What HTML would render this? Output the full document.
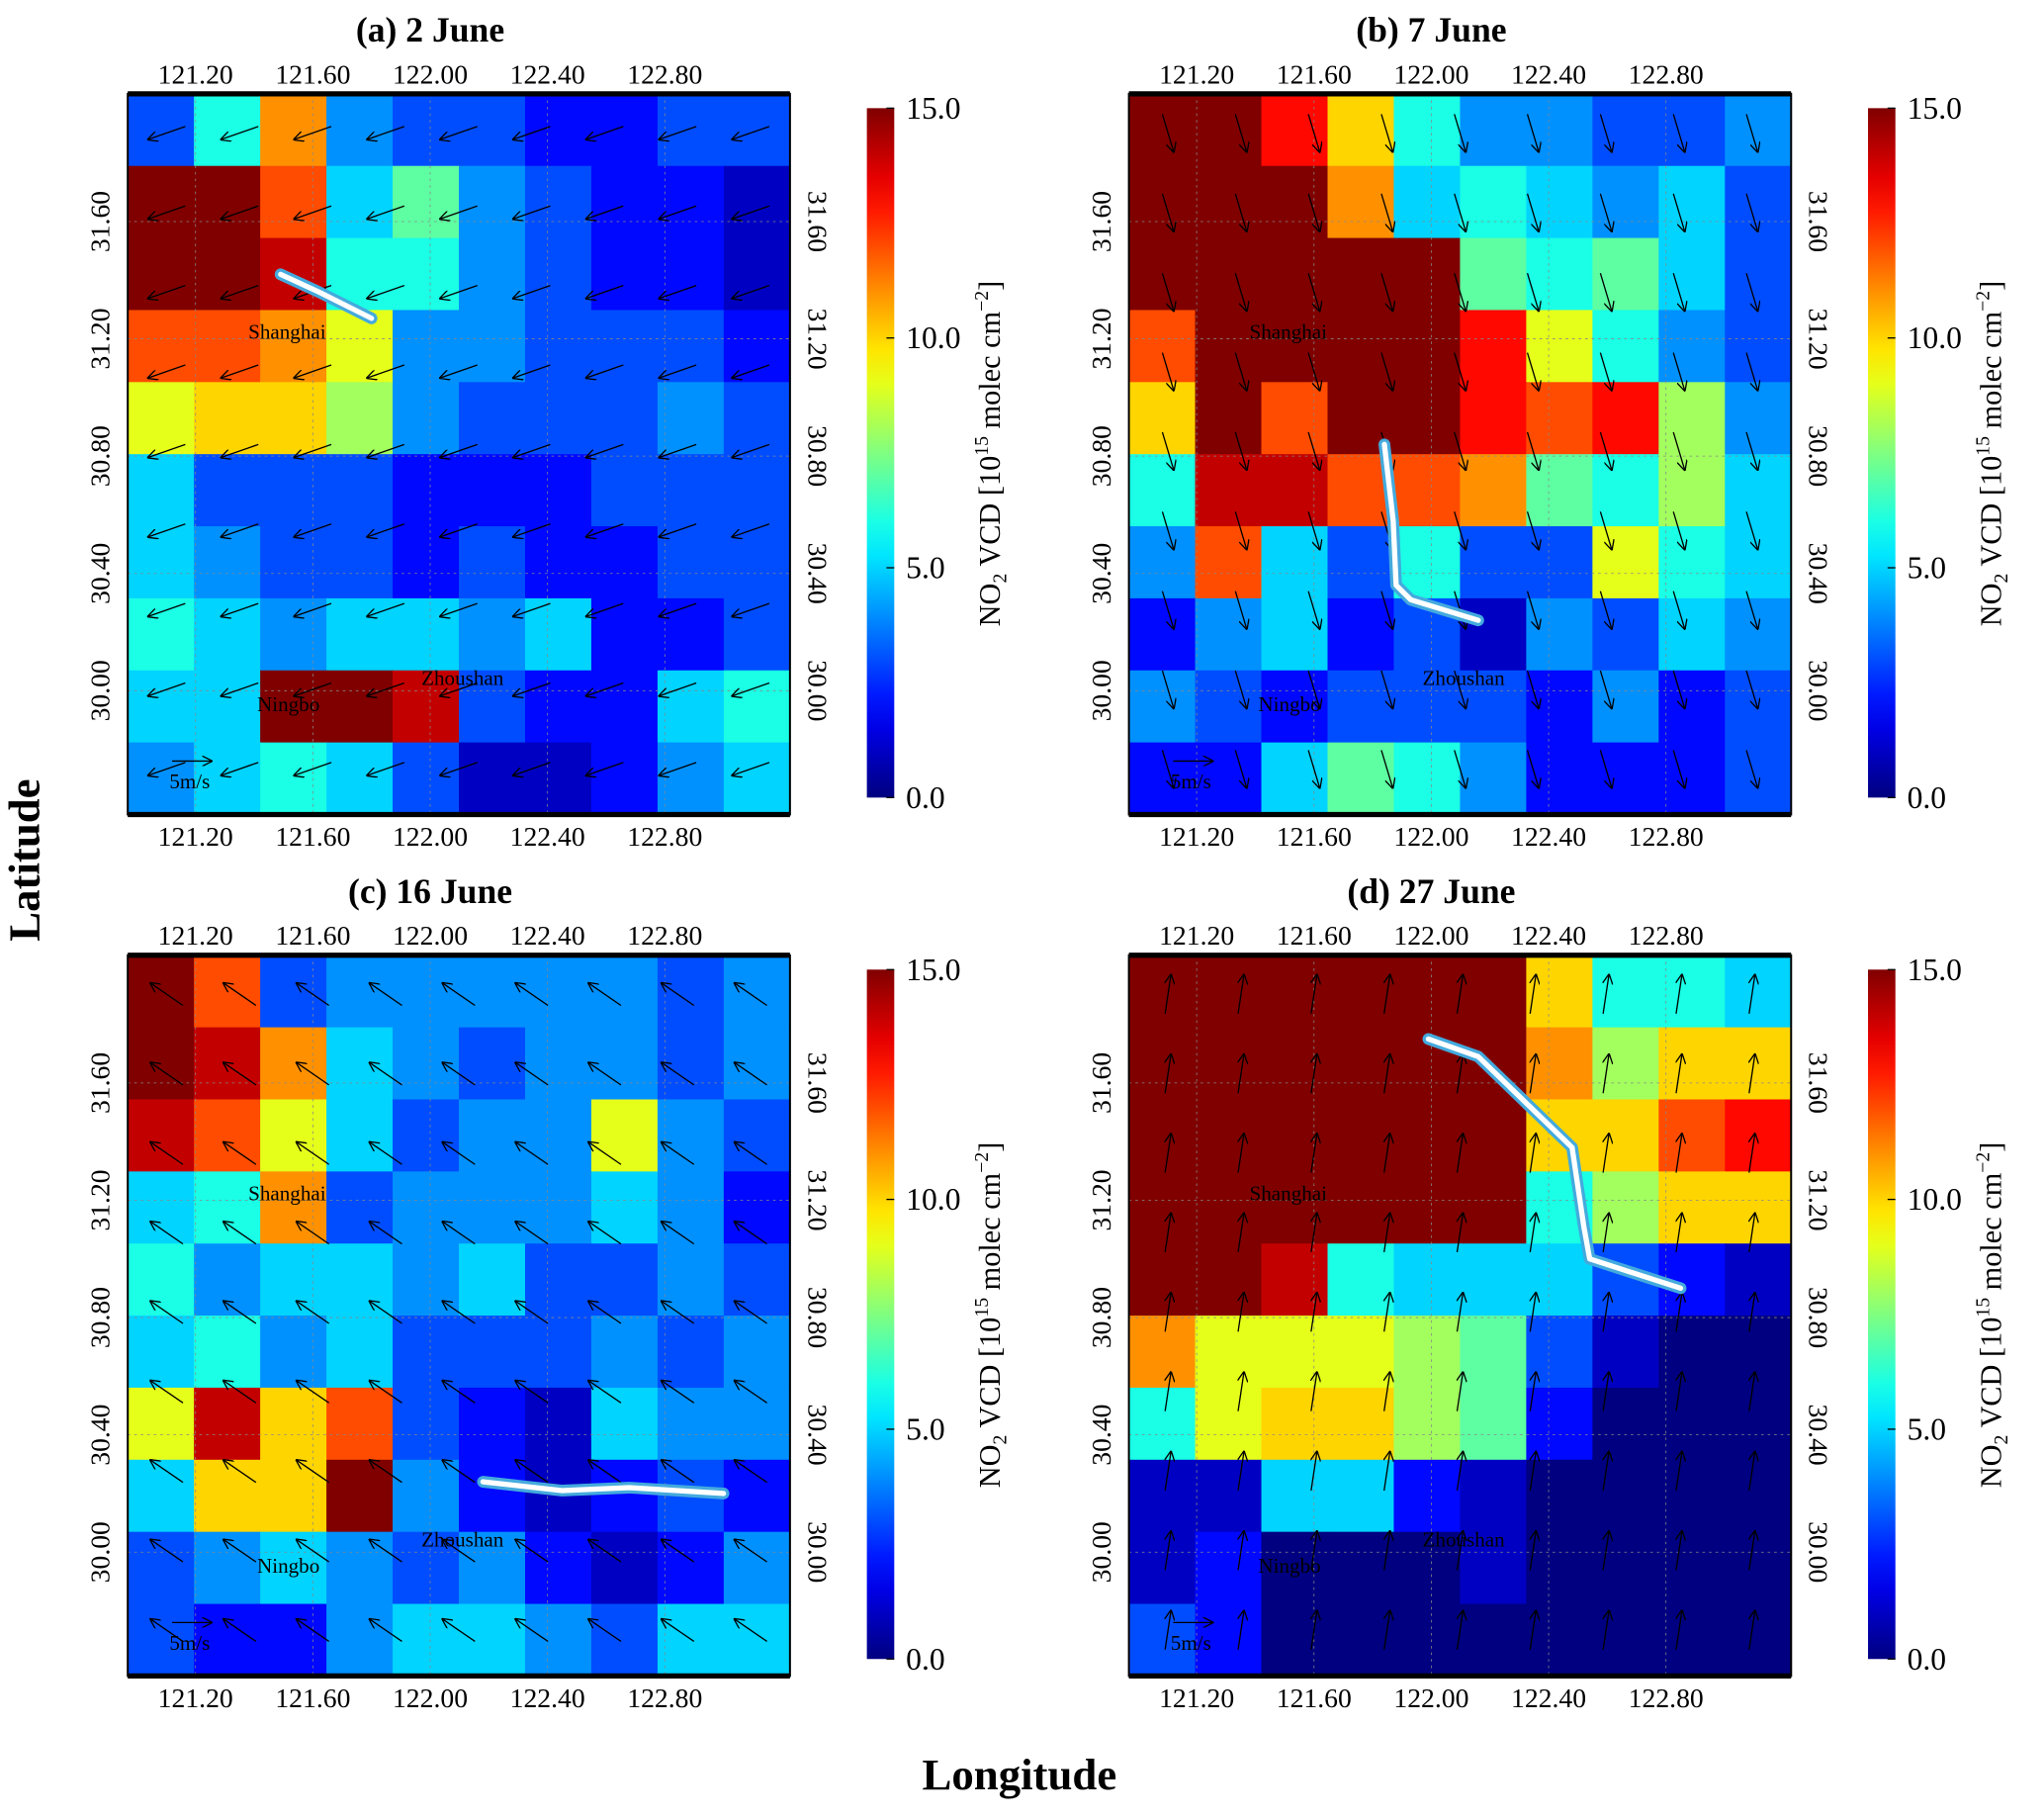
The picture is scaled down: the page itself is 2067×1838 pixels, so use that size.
<!DOCTYPE html>
<html><head><meta charset="utf-8">
<style>
html,body{margin:0;padding:0;background:#fff;}
svg{display:block;}
text{font-family:"Liberation Serif",serif;}
</style></head>
<body>
<svg id="fig" width="2067" height="1838" viewBox="0 0 1568 1395" preserveAspectRatio="none" xmlns="http://www.w3.org/2000/svg">
<rect width="1568" height="1395" fill="#fff"/>
<text x="30" y="660" font-size="34" font-weight="bold" text-anchor="middle" transform="rotate(-90 30 660)">Latitude</text>
<text x="782" y="1373" font-size="34" font-weight="bold" text-anchor="middle">Longitude</text>
</svg>
<script>
// ---- data ----
const panelTitles = ["(a)   2 June","(b)   7 June","(c)   16 June","(d)   27 June"];
const lonTicks = [121.2,121.6,122.0,122.4,122.8];
const latTicks = [31.6,31.2,30.8,30.4,30.0];
const cbTicks = [0,5,10,15];
const gridA = [
[3,6,11,4,3,3,2,2,3,3],
[15,15,12,5,7,4,3,2,2,1],
[15,15,14,6,6,4,3,2,2,1],
[12,12,11,9,4,4,3,3,3,2],
[9,10,10,8,4,3,3,3,4,3],
[5,3,3,3,2,2,2,3,3,3],
[5,4,3,3,2,3,2,2,3,3],
[6,5,4,5,5,4,5,2,2,3],
[5,5,15,15,14,3,2,2,5,6],
[4,5,6,5,3,1,1,2,4,5]];
const gridB = [
[15,15,13,10,6,4,4,3,3,4],
[15,15,15,11,5,6,5,4,5,3],
[15,15,15,15,15,7,6,7,5,3],
[12,15,15,15,15,13,9,6,4,3],
[10,15,12,15,15,13,12,13,8,4],
[6,14,14,12,12,11,7,6,8,5],
[4,12,5,3,6,3,3,9,6,5],
[2,4,5,2,3,1,4,3,5,4],
[4,3,2,3,3,3,2,4,2,3],
[2,2,5,7,6,4,2,2,2,3]];
const gridC = [
[15,12,3,4,4,4,4,4,3,4],
[15,14,11,5,4,3,4,4,3,4],
[14,12,9,5,3,4,4,9,4,3],
[5,6,11,3,4,4,4,5,4,2],
[6,4,5,5,4,5,3,3,4,3],
[5,6,4,5,3,3,3,4,3,4],
[9,14,10,12,3,2,1,5,4,4],
[5,10,10,15,4,2,1,2,3,2],
[3,4,5,4,3,4,2,1,2,4],
[3,2,2,4,5,5,4,3,5,5]];
const gridD = [
[15,15,15,15,15,15,10,6,6,5],
[15,15,15,15,15,15,11,8,10,10],
[15,15,15,15,15,15,10,10,12,13],
[15,15,15,15,15,15,6,8,10,10],
[15,15,14,6,5,5,5,3,2,1],
[11,9,9,9,8,7,3,1,0,0],
[6,9,10,10,8,7,2,0,0,0],
[1,1,5,5,2,1,0,0,0,0],
[1,2,0,0,0,1,0,0,0,0],
[3,2,0,0,0,0,0,0,0,0]];
const windU = [-1.0, 0.3, -0.8, 0.15];
const windV = [-0.35, -1.0, 0.55, 1.0];
const trackLonA = [121.49,121.62,121.8];
const trackLatA = [31.42,31.36,31.27];
const trackLonB = [121.84,121.87,121.88,121.93,122.16];
const trackLatB = [30.84,30.58,30.36,30.31,30.24];
const trackLonC = [122.18,122.45,122.68,123.0];
const trackLatC = [30.24,30.21,30.22,30.2];
const trackLonD = [121.99,122.16,122.48,122.52,122.54,122.85];
const trackLatD = [31.75,31.69,31.38,31.11,31.0,30.9];

const grids=[gridA,gridB,gridC,gridD];
const tLon=[trackLonA,trackLonB,trackLonC,trackLonD];
const tLat=[trackLatA,trackLatB,trackLatC,trackLatD];
const NS="http://www.w3.org/2000/svg";
const svg=document.getElementById('fig');
function mk(tag,attrs,parent){const e=document.createElementNS(NS,tag);for(const k in attrs)e.setAttribute(k,attrs[k]);(parent||svg).appendChild(e);return e;}
function jet(v){let t=Math.max(0,Math.min(1,v/15));
 const r=Math.max(0,Math.min(1,1.5-Math.abs(4*t-3))),g=Math.max(0,Math.min(1,1.5-Math.abs(4*t-2))),b=Math.max(0,Math.min(1,1.5-Math.abs(4*t-1)));
 return `rgb(${Math.round(r*255)},${Math.round(g*255)},${Math.round(b*255)})`;}
// gradient
const defs=mk('defs',{});
const lg=mk('linearGradient',{id:'jetg',x1:0,y1:1,x2:0,y2:0},defs);
for(let i=0;i<=20;i++){mk('stop',{offset:(i/20),'stop-color':jet(i*15/20)},lg);}
mk('marker',{id:'ah',markerWidth:8,markerHeight:8,refX:7,refY:4,orient:'auto',markerUnits:'userSpaceOnUse'},defs);
mk('path',{d:'M0,0 L8,4 L0,8',fill:'none',stroke:'#000','stroke-width':1},defs.lastChild);

const origins=[[98,72],[866,72],[98,733],[866,733]];
const W=508,H=553;
origins.forEach((o,p)=>{
 const [ox,oy]=o;
 const g=mk('g',{});
 
 
 const xs=lon=>ox+52+(lon-121.2)*225;
 const ys=lat=>oy+98+(31.6-lat)*225;
 const grid=grids[p],rows=grid.length,cols=grid[0].length;
 const cw=W/cols,ch=H/rows;
 grid.forEach((row,r)=>row.forEach((v,c)=>{
  const cell=mk('rect',{x:ox+c*cw,y:oy+r*ch,width:cw+0.6,height:ch+0.6,fill:jet(v)},g);
  
  
 }));
 // gridlines
 lonTicks.forEach(l=>mk('line',{x1:xs(l),x2:xs(l),y1:oy,y2:oy+H,stroke:'#888','stroke-width':0.6,'stroke-dasharray':'2,3'},g));
 latTicks.forEach(l=>mk('line',{x1:ox,x2:ox+W,y1:ys(l),y2:ys(l),stroke:'#888','stroke-width':0.6,'stroke-dasharray':'2,3'},g));
 // wind arrows
 for(let i=0;i<9;i++)for(let j=0;j<9;j++){
  const cx=ox+30+i*56,cy=oy+30+j*61,L=30;
  const u=windU[p],v=windV[p],n=Math.hypot(u,v);
  const a=mk('line',{x1:cx-u/n*L/2,y1:cy+v/n*L/2,x2:cx+u/n*L/2,y2:cy-v/n*L/2,stroke:'#000','stroke-width':1,'marker-end':'url(#ah)'},g);
  
  
 }
 // track
 const pts=tLon[p].map((l,i)=>xs(l)+','+ys(tLat[p][i])).join(' ');
 mk('polyline',{points:pts,fill:'none',stroke:'#4ad','stroke-width':9,'stroke-linecap':'round','stroke-linejoin':'round'},g);
 const tr=mk('polyline',{points:pts,fill:'none',stroke:'#fff','stroke-width':4,'stroke-linecap':'round','stroke-linejoin':'round'},g);
 
 
 // city labels
 [['Shanghai',121.38,31.2],['Ningbo',121.41,29.93],['Zhoushan',121.97,30.02]].forEach(c=>{
  const t=mk('text',{x:xs(c[1]),y:ys(c[2]),'font-size':16},g);t.textContent=c[0];
  });
 const sc=mk('text',{x:ox+32,y:oy+533,'font-size':16},g);sc.textContent='5m/s';
 mk('line',{x1:ox+34,x2:ox+64,y1:oy+512,y2:oy+512,stroke:'#000','marker-end':'url(#ah)'},g);
 // frame
 mk('rect',{x:ox,y:oy,width:W,height:H,fill:'none',stroke:'#000','stroke-width':1.5},g);
 mk('line',{x1:ox,x2:ox+W,y1:oy,y2:oy,stroke:'#000','stroke-width':4},g);
 mk('line',{x1:ox,x2:ox+W,y1:oy+H,y2:oy+H,stroke:'#000','stroke-width':4},g);
 // title
 const tt=mk('text',{x:ox+232,y:oy-40,'font-size':27,'font-weight':'bold','text-anchor':'middle'},g);
 tt.textContent=panelTitles[p];
 lonTicks.forEach(l=>{
  const a=mk('text',{x:xs(l),y:oy-8,'font-size':21,'text-anchor':'middle'},g);a.textContent=l.toFixed(2);
  
  const b=mk('text',{x:xs(l),y:oy+H+24,'font-size':21,'text-anchor':'middle'},g);b.textContent=l.toFixed(2);
  
 });
 latTicks.forEach(l=>{
  const x1=ox-14,y=ys(l);
  const a=mk('text',{x:x1,y:y,'font-size':21,'text-anchor':'middle',transform:`rotate(-90 ${x1} ${y})`},g);a.textContent=l.toFixed(2);
  
  const x2=ox+W+14;
  const b=mk('text',{x:x2,y:y,'font-size':21,'text-anchor':'middle',transform:`rotate(90 ${x2} ${y})`},g);b.textContent=l.toFixed(2);
  
 });
 // colorbar
 const cx=ox+567,cy=oy+11,ch2=529;
 const cb=mk('rect',{x:cx,y:cy,width:21,height:ch2,fill:'url(#jetg)'},g);
 
 cbTicks.forEach(v=>{
  const y=cy+ch2-v/15*ch2;
  mk('line',{x1:cx+15,x2:cx+21,y1:y,y2:y,stroke:'#000'},g);
  const t=mk('text',{x:cx+30,y:y+8,'font-size':24},g);t.textContent=v.toFixed(1);
  
 });
 const lx=cx+102,ly=cy+265;
 const lab=mk('text',{x:lx,y:ly,'font-size':23,'text-anchor':'middle',transform:`rotate(-90 ${lx} ${ly})`},g);
 lab.innerHTML='NO<tspan font-size="15" dy="5">2</tspan><tspan dy="-5"> VCD [10</tspan><tspan font-size="15" dy="-9">15</tspan><tspan dy="9"> molec cm</tspan><tspan font-size="15" dy="-9">−2</tspan><tspan dy="9">]</tspan>';
 
});
</script>
</body></html>
